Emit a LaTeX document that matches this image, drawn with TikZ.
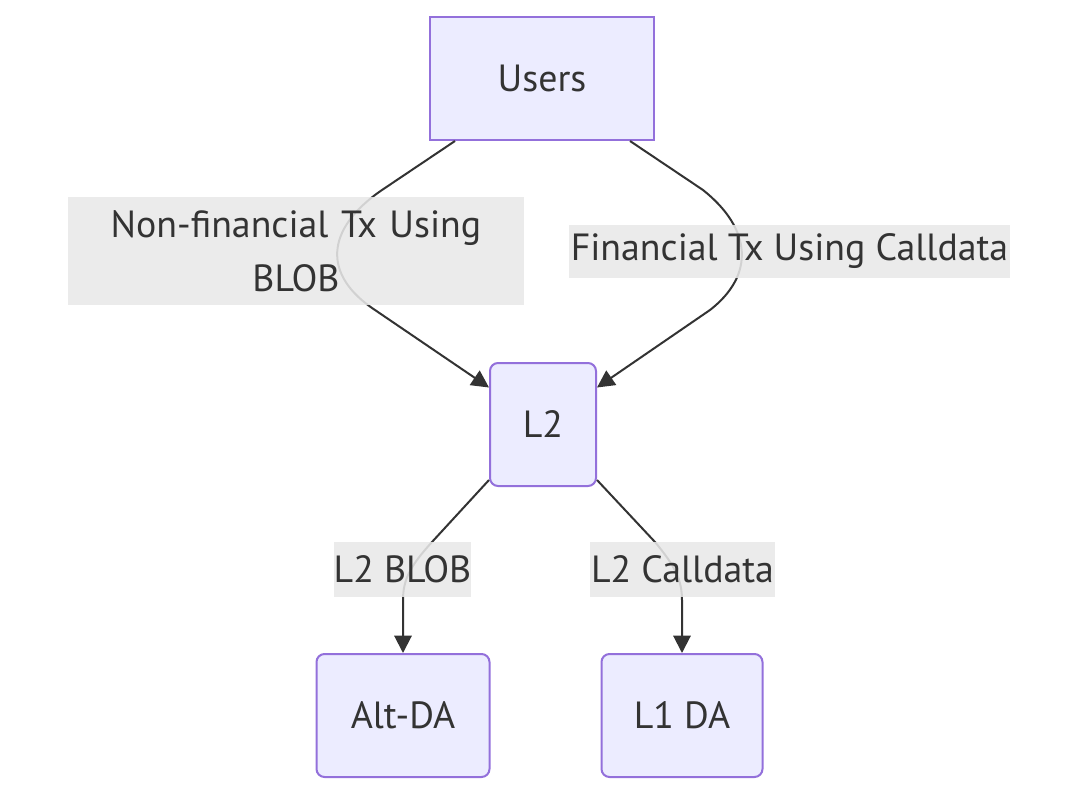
\documentclass[tikz,border=0pt]{standalone}
\usepackage{fontspec}
\setmainfont{PT Sans}
\usetikzlibrary{arrows.meta,calc}
\definecolor{txt}{HTML}{333333}
\definecolor{nfill}{HTML}{ECECFF}
\definecolor{nborder}{HTML}{9370DB}
\definecolor{lblbg}{HTML}{E8E8E8}
\tikzset{
  box/.style={draw=nborder,fill=nfill,line width=1.5pt,inner sep=0pt,text=txt,font=\fontsize{28.4}{40}\selectfont},
  rbox/.style={box,rounded corners=6pt},
  edge/.style={draw=txt,line width=1.5pt,-{Triangle[length=13pt,width=13pt]}},
  lbl/.style={fill=lblbg,fill opacity=0.88,text opacity=1,text=txt,inner sep=0pt,font=\fontsize{28.4}{40.5}\selectfont,align=center}
}
\begin{document}
\begin{tikzpicture}[x=0.75pt,y=-0.75pt]
\useasboundingbox (0,0) rectangle (1083,800);
\node[box,minimum width=168pt,minimum height=92.25pt] (users) at (542,78.5) {Users};
\node[rbox,minimum width=79.5pt,minimum height=92.25pt] (l2) at (543,424.5) {L2};
\node[rbox,minimum width=129.75pt,minimum height=92.25pt] (altda) at (403,715.5) {Alt-DA};
\node[rbox,minimum width=120.75pt,minimum height=92.25pt] (l1da) at (682,715.5) {L1 DA};
% edges
\draw[edge] ($(users.south)+(-87,0)$) -- (382,190) .. controls (325,229) and (322,275) .. (375,310) -- ($(l2.west)+(0,-37)$);
\draw[edge] ($(users.south)+(88,0)$) -- (703,190) .. controls (752,229) and (755,275) .. (710,310) -- ($(l2.east)+(0,-37)$);
\draw[edge] ($(l2.south west)+(0,-7)$) -- (432,542) .. controls (410,566) and (403,580) .. (403,600) -- (altda.north);
\draw[edge] ($(l2.south east)+(0,-7)$) -- (655,542) .. controls (675,566) and (682,580) .. (682,600) -- (l1da.north);
% labels
\node[lbl,minimum width=342pt,minimum height=81pt,text width=342pt] (lab1) at (296,251) {Non-financial Tx Using\\BLOB};
\node[lbl,minimum width=330.75pt,minimum height=39.75pt] (lab2) at (789.5,251.5) {Financial Tx Using Calldata};
\node[lbl,minimum width=99.75pt,minimum height=41.25pt] (lab3) at (402.5,569.5) {L2 BLOB};
\node[lbl,minimum width=138.75pt,minimum height=41.25pt] (lab4) at (682.5,569.5) {L2 Calldata};
\end{tikzpicture}
\end{document}
